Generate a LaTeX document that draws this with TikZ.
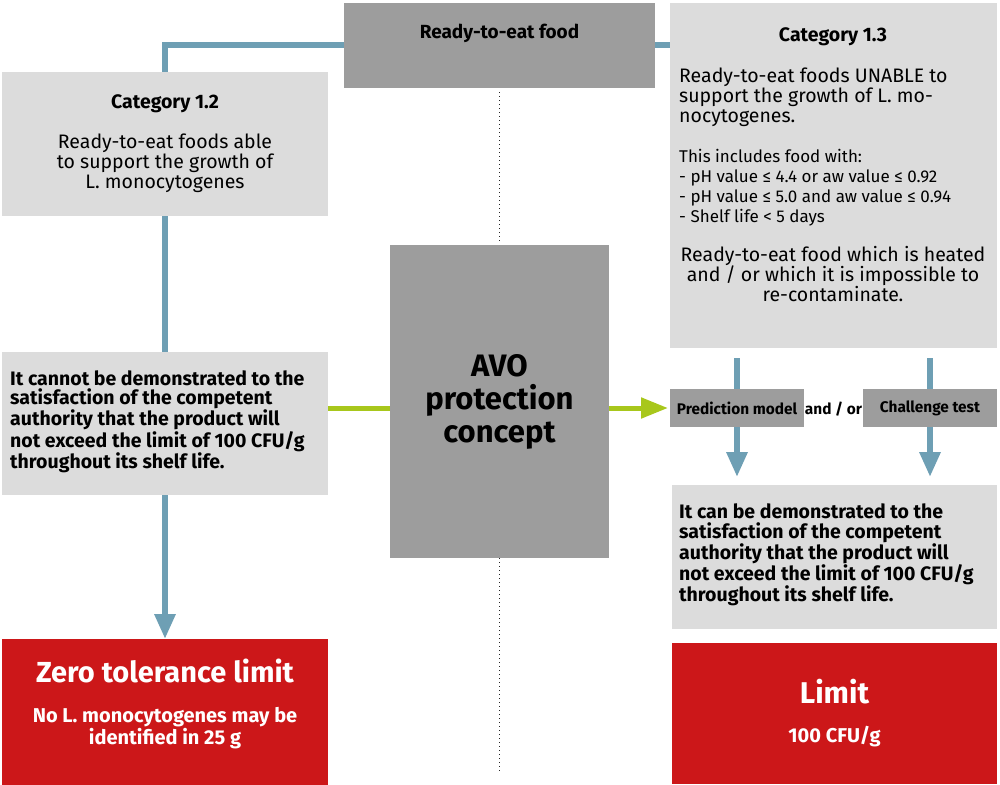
\documentclass[tikz,border=0pt]{standalone}
\usepackage{fontspec}
\setmainfont{Fira Sans}
\usetikzlibrary{positioning}
\usetikzlibrary{arrows.meta, calc}
\definecolor{colLight}{HTML}{DCDCDC}
\definecolor{colDark}{HTML}{9D9D9D}
\definecolor{colLimit}{HTML}{CC1719}
\definecolor{strokeFlow}{HTML}{6E9FB4}
\definecolor{strokeAvo}{HTML}{A8C71C}

\begin{document}
\begin{tikzpicture}[
				x=1pt, y=-1pt,
				font=\fontsize{19.5}{20}\selectfont,
				% Node Styles
				base/.style={inner sep=0pt, outer sep=0pt, anchor=north west},
				light/.style={base, fill=colLight},
				dark/.style={base, fill=colDark, align=center},
				limit/.style={base, fill=colLimit, text=white, align=center},
				txt/.style={inner sep=0pt, align=left},
				boldtxt/.style={txt, font=\fontsize{19.5}{19.5}\selectfont\bfseries},
				% Connector Styles
				flow/.style={draw=strokeFlow, line width=6pt},
				flowarrow/.style={flow, -{Triangle[width=20pt, length=25pt]}},
				avoline/.style={draw=strokeAvo, line width=5pt},
				sep/.style={draw=black!85, line width=1.2pt, dash pattern=on 1.2pt off 2.8pt}
				]
				\useasboundingbox (0,0) rectangle (1000,784);
				
				%% ================= TOP =================
				\node[dark, minimum width=311pt, minimum height=85pt] (ready) at (344,3) {};
				\node[font=\fontsize{19}{20}\selectfont\bfseries, inner sep=0pt] (readytxt) at (499.5,33) {Ready-to-eat food};
				
				%% ================= LEFT: CATEGORY 1.2 =================
				\node[light, minimum width=326pt, minimum height=144pt, align=center] (cat12) at (2,72) {{\fontsize{19.5}{20}\selectfont\bfseries Category 1.2}\\[20pt]Ready-to-eat foods able\\to support the growth of\\L. monocytogenes};
				
				\node[light, minimum width=326pt, minimum height=143pt] (cannot) at (2,352) {};
				\node[boldtxt, anchor=west] (cannottxt) at ($(cannot.west)+(8,-2)$) {It cannot be demonstrated to the\\satisfaction of the competent\\authority that the product will\\not exceed the limit of 100 CFU/g\\throughout its shelf life.};
				
				\node[limit, minimum width=326pt, minimum height=146pt] (zero) at (2,639) {};
				\node[txt, align=center, text=white, font=\fontsize{20}{18.5}\selectfont\bfseries] (zerotxt) at ($(zero.center)+(0,-8)$) {{\fontsize{29}{30}\selectfont Zero tolerance limit}\\[21pt]No L. monocytogenes may be\\identified in 25 g};
				
				%% ================= MIDDLE =================
				\node[dark, minimum width=219pt, minimum height=313pt, font=\fontsize{31}{33}\selectfont\bfseries] (avo) at (390,245) {AVO\\protection\\concept};
				
				%% ================= RIGHT: CATEGORY 1.3 =================
				\node[light, minimum width=327pt, minimum height=345pt] (cat13) at (670,3) {};
				\node[font=\fontsize{19.5}{20}\selectfont\bfseries, inner sep=0pt] (cat13title) at (833,37) {Category 1.3};
				\node[txt, anchor=north west] (cat13text) at (679,68) {Ready-to-eat foods UNABLE to\\support the growth of L. mo-\\nocytogenes.};
				\node[txt, anchor=north west, font=\fontsize{17}{20}\selectfont] (cat13list) at (679,149) {This includes food with:\\- pH value ≤ 4.4 or aw value ≤ 0.92\\- pH value ≤ 5.0 and aw value ≤ 0.94\\- Shelf life < 5 days};
				\node[txt, anchor=north, align=center] (cat13note) at (833,246) {Ready-to-eat food which is heated\\and / or which it is impossible to\\re-contaminate.};
				
				\node[dark, minimum width=134pt, minimum height=38pt, font=\fontsize{15.4}{16}\selectfont\bfseries] (pred) at (670,389) {Prediction model};
				\node[dark, minimum width=134pt, minimum height=38pt, font=\fontsize{15.4}{16}\selectfont\bfseries] (chal) at (863,389) {Challenge test};
				\node[inner sep=0pt, font=\fontsize{15.4}{16}\selectfont\bfseries] (andor) at ($(pred.east)!0.5!(chal.west)+(0,1)$) {and / or};
				
				\node[light, minimum width=325pt, minimum height=144pt] (can) at (672,485) {};
				\node[boldtxt, anchor=west] (cantxt) at ($(can.west)+(7,-2)$) {It can be demonstrated to the\\satisfaction of the competent\\authority that the product will\\not exceed the limit of 100 CFU/g\\throughout its shelf life.};
				
				\node[limit, minimum width=325pt, minimum height=141pt, font=\fontsize{20}{19}\selectfont\bfseries] (lim) at (672,643) {{\fontsize{30}{30}\selectfont Limit}\\[20pt]100 CFU/g};
				
				%% ================= CONNECTORS =================
				\draw[flow] (ready.west) -| (cat12.north);
				\draw[flow] (ready.east) -- (ready.east -| cat13.west);
				\draw[flow] (cat12.south) -- (cannot.north);
				\draw[flowarrow] (cannot.south) -- (zero.north);
				
				\draw[avoline] (cannot.east |- pred.west) -- (avo.west |- pred.west);
				\draw[avoline, -{Triangle[width=20pt, length=27pt]}, shorten >=2pt] (avo.east |- pred.west) -- (pred.west);
				
				\draw[flow, shorten <=10pt] (pred.north |- cat13.south) -- (pred.north);
				\draw[flow, shorten <=10pt] (chal.north |- cat13.south) -- (chal.north);
				\draw[flowarrow, shorten >=8pt] (pred.south) -- (pred.south |- can.north);
				\draw[flowarrow, shorten >=8pt] (chal.south) -- (chal.south |- can.north);
				
				% Dotted divider
				\coordinate (sepend) at (499.5,771);
				\draw[sep, shorten <=4pt, shorten >=2pt] (ready.south) -- (avo.north);
				\draw[sep] (avo.south) -- (sepend);
				
			\end{tikzpicture}
\end{document}
